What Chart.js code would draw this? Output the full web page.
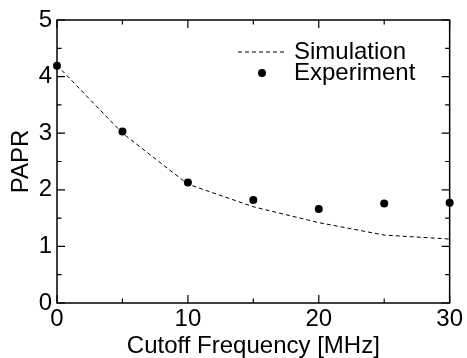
<!DOCTYPE html>
<html><head><meta charset="utf-8">
<script src="https://cdn.jsdelivr.net/npm/chart.js@4.4.1/dist/chart.umd.min.js"></script>
<style>html,body{margin:0;padding:0;background:#fff}#wrap{width:467px;height:358px}</style>
</head><body><div id="wrap"><canvas id="c" width="467" height="358"></canvas></div>
<script>
const xValues = [0, 5, 10, 15, 20, 25, 30];
const simulation = [4.2, 3.0, 2.1, 1.7, 1.42, 1.2, 1.13];
const experiment = [4.19, 3.03, 2.13, 1.82, 1.66, 1.76, 1.77];
const xTicks = [0, 10, 20, 30];
const yTicks = [0, 1, 2, 3, 4, 5];
const seriesNames = ['Simulation', 'Experiment'];
const FONT = "'Liberation Sans', Arial, sans-serif";
const FS = 24;

const framePlugin = {
  id: 'frame',
  afterDraw(chart) {
    const ctx = chart.ctx, a = chart.chartArea;
    const xs = chart.scales.x, ys = chart.scales.y;
    ctx.save();
    ctx.strokeStyle = '#000';
    ctx.lineWidth = 1.5;
    ctx.strokeRect(a.left, a.top, a.right - a.left, a.bottom - a.top);
    ctx.lineWidth = 1.2;
    ctx.beginPath();
    for (let v = 0; v <= 30; v += 5) {
      const p = xs.getPixelForValue(v);
      const len = (v % 10 === 0) ? 8 : 4.5;
      ctx.moveTo(p, a.bottom); ctx.lineTo(p, a.bottom - len);
      ctx.moveTo(p, a.top); ctx.lineTo(p, a.top + len);
    }
    for (let v = 0; v <= 5; v += 0.5) {
      const p = ys.getPixelForValue(v);
      const len = (Math.abs(v - Math.round(v)) < 1e-6) ? 8 : 4.5;
      ctx.moveTo(a.left, p); ctx.lineTo(a.left + len, p);
      ctx.moveTo(a.right, p); ctx.lineTo(a.right - len, p);
    }
    ctx.stroke();
    // legend
    const lx = a.left + 181, ly1 = a.top + 32, ly2 = a.top + 53;
    ctx.setLineDash([4, 3]);
    ctx.lineWidth = 1;
    ctx.beginPath();
    ctx.moveTo(lx, ly1); ctx.lineTo(lx + 47, ly1);
    ctx.stroke();
    ctx.setLineDash([]);
    ctx.fillStyle = '#000';
    ctx.beginPath();
    ctx.arc(lx + 24, ly2, 4, 0, Math.PI * 2);
    ctx.fill();
    ctx.font = FS + 'px ' + FONT;
    ctx.textBaseline = 'alphabetic';
    ctx.textAlign = 'left';
    ctx.fillText(seriesNames[0], lx + 56, a.top + 38.5);
    ctx.fillText(seriesNames[1], lx + 56, a.top + 60);
    ctx.restore();
  }
};

new Chart(document.getElementById('c'), {
  type: 'line',
  data: {
    datasets: [
      {
        label: seriesNames[0],
        data: xValues.map((x, i) => ({x, y: simulation[i]})),
        borderColor: '#000', borderWidth: 1, borderDash: [4, 3],
        pointRadius: 0, fill: false, tension: 0
      },
      {
        label: seriesNames[1],
        data: xValues.map((x, i) => ({x, y: experiment[i]})),
        showLine: false, pointRadius: 4, pointBackgroundColor: '#000',
        pointBorderColor: '#000', pointBorderWidth: 0
      }
    ]
  },
  options: {
    responsive: false,
    animation: false,
    clip: false,
    layout: { padding: { left: 0, right: 14, top: 20, bottom: 0 } },
    plugins: { legend: { display: false }, tooltip: { enabled: false } },
    scales: {
      x: {
        type: 'linear', min: 0, max: 30,
        afterBuildTicks: s => { s.ticks = xTicks.map(v => ({value: v})); },
        afterFit: s => { s.height = 55; },
        grid: { display: false, drawTicks: false },
        border: { display: false },
        ticks: { color: '#000', font: { family: FONT, size: FS, lineHeight: 1 }, padding: 4, maxRotation: 0 },
        title: { display: true, text: 'Cutoff Frequency [MHz]', color: '#000',
                 font: { family: FONT, size: FS, lineHeight: 1 }, padding: { top: 0, bottom: 0 } }
      },
      y: {
        type: 'linear', min: 0, max: 5,
        afterBuildTicks: s => { s.ticks = yTicks.map(v => ({value: v})); },
        afterFit: s => { s.width = 57; },
        grid: { display: false, drawTicks: false },
        border: { display: false },
        ticks: { color: '#000', font: { family: FONT, size: FS }, padding: 5 },
        title: { display: true, text: 'PAPR', color: '#000',
                 font: { family: FONT, size: FS, lineHeight: 1 }, padding: { top: 9, bottom: 0 } }
      }
    }
  },
  plugins: [framePlugin]
});
</script></body></html>
